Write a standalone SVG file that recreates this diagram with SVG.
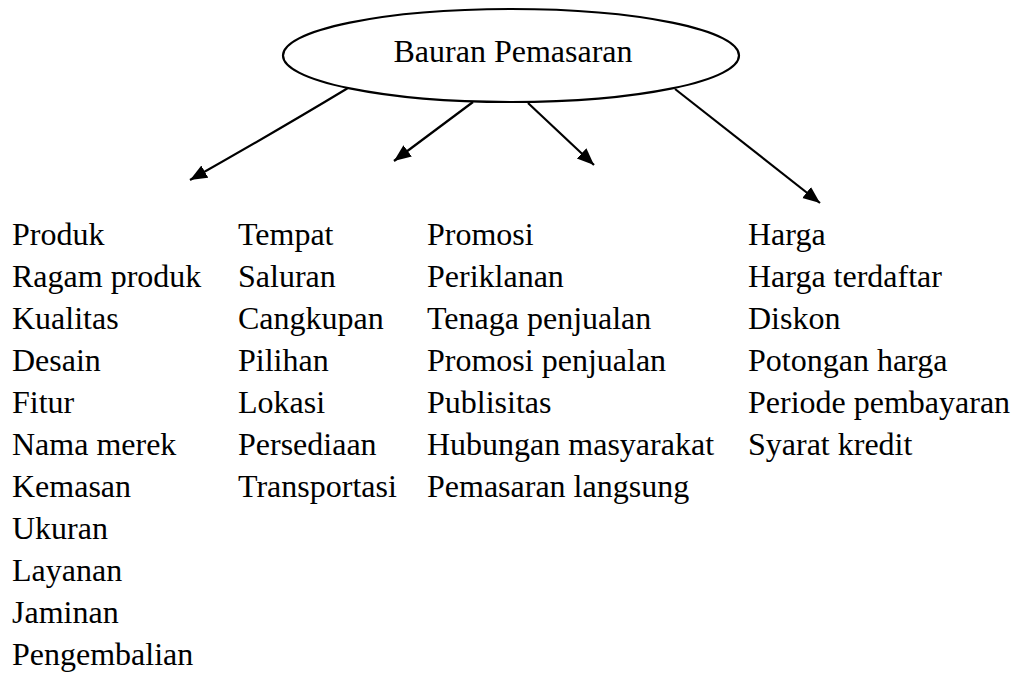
<svg xmlns="http://www.w3.org/2000/svg" width="1014" height="675" viewBox="0 0 1014 675">
<style>
.t{font-family:"Liberation Serif","Times New Roman",serif;font-size:32px;fill:#000}
.c{fill:none;stroke:#000;stroke-width:2.2}
</style>
<defs>
<marker id="ah" markerUnits="userSpaceOnUse" markerWidth="20" markerHeight="16" refX="17" refY="7" orient="auto">
<path d="M0,0 L17,7 L0,14 Z" fill="#000"/>
</marker>
</defs>
<rect width="1014" height="675" fill="#fff"/>
<g id="root">
<ellipse cx="511" cy="55.5" rx="228" ry="46.5" fill="#fff" stroke="#000" stroke-width="2.2"/>
<text class="t" x="513" y="62" text-anchor="middle">Bauran Pemasaran</text>
</g>
<g id="connectors">
<path class="c" d="M348,88 Q275,132 190,180" marker-end="url(#ah)"/>
<path class="c" d="M473,102 L394,161" marker-end="url(#ah)"/>
<path class="c" d="M528,103 L594,165" marker-end="url(#ah)"/>
<path class="c" d="M675,89 L820,203" marker-end="url(#ah)"/>
</g>
<g id="produk">
<text class="t" x="12" y="245">Produk</text>
<text class="t" x="12" y="287">Ragam produk</text>
<text class="t" x="12" y="329">Kualitas</text>
<text class="t" x="12" y="371">Desain</text>
<text class="t" x="12" y="413">Fitur</text>
<text class="t" x="12" y="455">Nama merek</text>
<text class="t" x="12" y="497">Kemasan</text>
<text class="t" x="12" y="539">Ukuran</text>
<text class="t" x="12" y="581">Layanan</text>
<text class="t" x="12" y="623">Jaminan</text>
<text class="t" x="12" y="665">Pengembalian</text>
</g>
<g id="tempat">
<text class="t" x="238" y="245">Tempat</text>
<text class="t" x="238" y="287">Saluran</text>
<text class="t" x="238" y="329">Cangkupan</text>
<text class="t" x="238" y="371">Pilihan</text>
<text class="t" x="238" y="413">Lokasi</text>
<text class="t" x="238" y="455">Persediaan</text>
<text class="t" x="238" y="497">Transportasi</text>
</g>
<g id="promosi">
<text class="t" x="427" y="245">Promosi</text>
<text class="t" x="427" y="287">Periklanan</text>
<text class="t" x="427" y="329">Tenaga penjualan</text>
<text class="t" x="427" y="371">Promosi penjualan</text>
<text class="t" x="427" y="413">Publisitas</text>
<text class="t" x="427" y="455">Hubungan masyarakat</text>
<text class="t" x="427" y="497">Pemasaran langsung</text>
</g>
<g id="harga">
<text class="t" x="748" y="245">Harga</text>
<text class="t" x="748" y="287">Harga terdaftar</text>
<text class="t" x="748" y="329">Diskon</text>
<text class="t" x="748" y="371">Potongan harga</text>
<text class="t" x="748" y="413">Periode pembayaran</text>
<text class="t" x="748" y="455">Syarat kredit</text>
</g>
</svg>
